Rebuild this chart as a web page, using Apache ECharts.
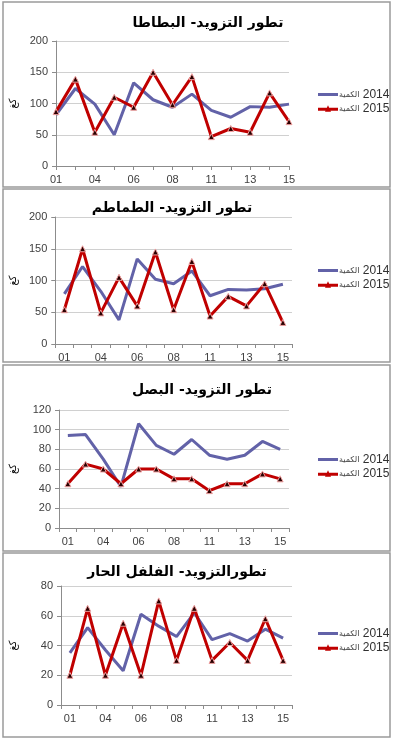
<!DOCTYPE html>
<html><head><meta charset="utf-8">
<script src="https://cdn.jsdelivr.net/npm/echarts@6/dist/echarts.min.js"></script>
<style>html,body{margin:0;padding:0;background:#fff}#c{width:393px;height:740px}</style>
</head><body><div id="c"></div>
<script>
var categories = ["01","03","04","05","06","07","08","10","11","12","13","14","15"];
var titles = ["تطور التزويد- البطاطا","تطور التزويد- الطماطم","تطور التزويد- البصل","تطورالتزويد- الفلفل الحار"];
var seriesWord = "الكمية";
var seriesYears = ["2014","2015"];
var seriesNames = [seriesWord + " " + seriesYears[0], seriesWord + " " + seriesYears[1]];
var unitName = "كغ";
var potato2014 = [82,124,99,50,133,106,94,115,89,78,95,94,99];
var potato2015 = [87,139,54,110,94,150,98,143,47,60,54,117,71];
var tomato2014 = [79,122,83,38,134,102,95,115,76,86,85,87,94];
var tomato2015 = [54,150,49,105,60,145,54,130,44,75,60,95,34];
var onion2014 = [94,95,70,42,106,84,75,90,74,70,74,88,80];
var onion2015 = [45,65,60,45,60,60,50,50,38,45,45,55,50];
var pepper2014 = [35,52,37,23,61,53,46,62,44,48,43,51,45];
var pepper2015 = [20,65,20,55,20,70,30,65,30,42,30,58,30];
var yMax = [200,200,120,80];
var yInterval = [50,50,20,20];

var data2014 = [potato2014, tomato2014, onion2014, pepper2014];
var data2015 = [potato2015, tomato2015, onion2015, pepper2015];

var layout = [
  {box:[3,2,387,185], grid:{left:55,top:41,width:234,height:125}, gap:false, title:[203,11], legend:83},
  {box:[3,189,387,173], grid:{left:53,top:217,width:239,height:127}, gap:true, title:[167,196], legend:259},
  {box:[3,365,387,186], grid:{left:58,top:410,width:231,height:118}, gap:true, title:[197,378], legend:448},
  {box:[3,553,387,184], grid:{left:60,top:586,width:232,height:119}, gap:true, title:[172,560], legend:622}
];
var C14 = '#6262A8', C15 = '#C00000';
var icon14 = 'path://M0,4L20,4L20,7L0,7Z';
var icon15 = 'path://M0,4L20,4L20,7L0,7Z M10,1.5L13,8L7,8Z';
var option = {animation:false, title:[], grid:[], xAxis:[], yAxis:[], legend:[], series:[], graphic:[]};
layout.forEach(function(L,i){
  option.graphic.push({type:'rect', shape:{x:L.box[0],y:L.box[1],width:L.box[2],height:L.box[3]},
    style:{fill:'none',stroke:'#9a9a9a',lineWidth:1.5}, silent:true});
  option.title.push({text:titles[i], left:L.title[0], top:L.title[1], textAlign:'center',
    textStyle:{fontFamily:'DejaVu Sans', fontSize:14, fontWeight:'bold', color:'#000'}});
  option.grid.push(L.grid);
  option.xAxis.push({type:'category', gridIndex:i, data:categories, boundaryGap:L.gap,
    axisLine:{lineStyle:{color:'#8c8c8c'}}, axisTick:{show:true, interval:0, length:4, lineStyle:{color:'#8c8c8c'}},
    axisLabel:{interval:1, color:'#404040', fontSize:11, fontFamily:'Liberation Sans', margin:8}});
  option.yAxis.push({type:'value', gridIndex:i, min:0, max:yMax[i], interval:yInterval[i],
    name:unitName, nameLocation:'middle', nameRotate:90, nameGap:L.grid.left-17,
    nameTextStyle:{fontFamily:'DejaVu Sans', fontSize:10, color:'#000'},
    axisLine:{show:true, lineStyle:{color:'#8c8c8c'}}, axisTick:{show:true, length:4, lineStyle:{color:'#8c8c8c'}},
    splitLine:{lineStyle:{color:'#d0d0d0'}},
    axisLabel:{color:'#404040', fontSize:11, fontFamily:'Liberation Sans', margin:8}});
  option.legend.push({orient:'vertical', left:313, top:L.legend, itemWidth:20, itemHeight:9, itemGap:1,
    data:[{name:seriesNames[0], icon:icon14, itemStyle:{color:C14, borderWidth:0}},
          {name:seriesNames[1], icon:icon15, itemStyle:{color:C15, borderWidth:0}}],
    formatter:function(n){ var p = n.split(' '); return '{a|' + p[0] + '} {b|' + p[1] + '}'; },
    textStyle:{color:'#303030', padding:[0,0,0,-4], lineHeight:13,
      rich:{a:{fontFamily:'DejaVu Sans', fontSize:8, color:'#404040', lineHeight:13},
            b:{fontFamily:'Liberation Sans', fontSize:12, color:'#303030', lineHeight:13}}},
    selectedMode:false});
  option.series.push({type:'line', name:seriesNames[0], xAxisIndex:i, yAxisIndex:i, data:data2014[i],
    showSymbol:false, symbol:'none', lineStyle:{color:C14,width:3}, itemStyle:{color:C14}, z:2});
  option.series.push({type:'line', name:seriesNames[1], xAxisIndex:i, yAxisIndex:i, data:data2015[i],
    symbol:'triangle', symbolSize:6, lineStyle:{color:C15,width:3},
    itemStyle:{color:'#2a0000', borderColor:'#f0a0a0', borderWidth:1}, z:3});
});
var chart = echarts.init(document.getElementById('c'), null, {renderer:'canvas'});
chart.setOption(option);
</script></body></html>
